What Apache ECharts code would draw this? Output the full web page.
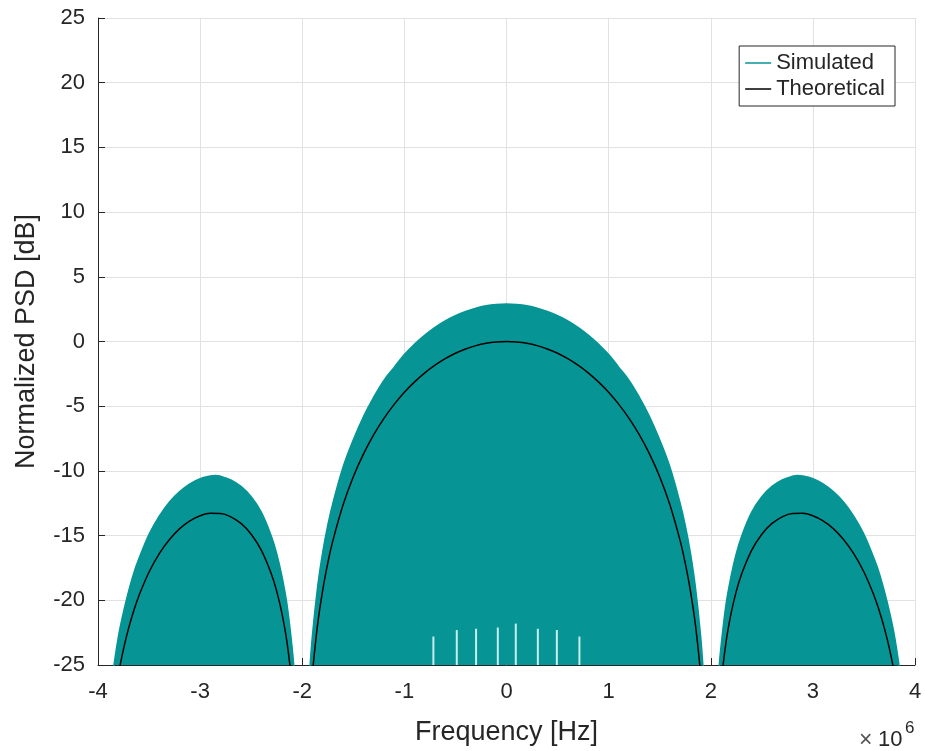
<!DOCTYPE html>
<html><head><meta charset="utf-8">
<script src="https://cdn.jsdelivr.net/npm/echarts@6/dist/echarts.min.js"></script>
<style>html,body{margin:0;padding:0;background:#fff}#c{width:925px;height:751px}</style>
</head><body><div id="c"></div>
<script>
// x in units of 10^6 Hz, y in dB
const xTicks = [-4, -3, -2, -1, 0, 1, 2, 3, 4];
const yTicks = [-25, -20, -15, -10, -5, 0, 5, 10, 15, 20, 25];

// Simulated PSD (upper envelope of dense noisy trace), null = gap
const simFreq = [-3.85,-3.8,-3.75,-3.7,-3.65,-3.6,-3.5,-3.4,-3.3,-3.2,-3.1,-3.0,-2.9,-2.85,-2.8,-2.7,-2.6,-2.5,-2.4,-2.3,-2.25,-2.2,-2.15,-2.1,-2.08,
  -2.0,
  -1.93,-1.9,-1.85,-1.8,-1.75,-1.7,-1.6,-1.5,-1.4,-1.3,-1.2,-1.1,-1.0,-0.9,-0.8,-0.7,-0.6,-0.5,-0.4,-0.3,-0.2,-0.1,0,
  0.1,0.2,0.3,0.4,0.5,0.6,0.7,0.8,0.9,1.0,1.1,1.2,1.3,1.4,1.5,1.6,1.7,1.75,1.8,1.85,1.9,1.93,
  2.0,
  2.08,2.1,2.15,2.2,2.25,2.3,2.4,2.5,2.6,2.7,2.8,2.85,2.9,3.0,3.1,3.2,3.3,3.4,3.5,3.6,3.65,3.7,3.75,3.8,3.85];
const simPSD = [-25.4,-22.8,-20.9,-19.3,-17.9,-16.8,-14.9,-13.5,-12.4,-11.6,-11.0,-10.6,-10.4,-10.35,-10.42,-10.7,-11.2,-12.0,-13.2,-15.1,-16.4,-18.1,-20.3,-23.6,-25.4,
  null,
  -25.9,-22.7,-19.0,-16.3,-14.2,-12.5,-9.7,-7.6,-5.8,-4.3,-3.0,-2.0,-1.0,-0.2,0.5,1.1,1.6,2.0,2.32,2.58,2.76,2.86,2.9,
  2.86,2.76,2.58,2.32,2.0,1.6,1.1,0.5,-0.2,-1.0,-2.0,-3.0,-4.3,-5.8,-7.6,-9.7,-12.5,-14.2,-16.3,-19.0,-22.7,-25.9,
  null,
  -25.4,-23.6,-20.3,-18.1,-16.4,-15.1,-13.2,-12.0,-11.2,-10.7,-10.42,-10.35,-10.4,-10.6,-11.0,-11.6,-12.4,-13.5,-14.9,-16.8,-17.9,-19.3,-20.9,-22.8,-25.4];

// Theoretical PSD, null = gap
const theoFreq = [-3.8,-3.75,-3.7,-3.65,-3.6,-3.5,-3.4,-3.3,-3.2,-3.1,-3.0,-2.9,-2.8,-2.7,-2.6,-2.5,-2.4,-2.3,-2.25,-2.2,-2.15,-2.1,
  -2.0,
  -1.9,-1.85,-1.8,-1.75,-1.7,-1.6,-1.5,-1.4,-1.3,-1.2,-1.1,-1.0,-0.9,-0.8,-0.7,-0.6,-0.5,-0.4,-0.3,-0.2,-0.1,0,
  0.1,0.2,0.3,0.4,0.5,0.6,0.7,0.8,0.9,1.0,1.1,1.2,1.3,1.4,1.5,1.6,1.7,1.75,1.8,1.85,1.9,
  2.0,
  2.1,2.15,2.2,2.25,2.3,2.4,2.5,2.6,2.7,2.8,2.9,3.0,3.1,3.2,3.3,3.4,3.5,3.6,3.65,3.7,3.75,3.8];
const theoPSD = [-25.7,-23.75,-22.15,-20.81,-19.66,-17.81,-16.39,-15.30,-14.46,-13.86,-13.46,-13.28,-13.30,-13.55,-14.06,-14.89,-16.14,-18.02,-19.31,-20.97,-23.21,-26.48,
  null,
  -25.61,-21.90,-19.23,-17.13,-15.39,-12.62,-10.45,-8.69,-7.20,-5.94,-4.86,-3.92,-3.12,-2.42,-1.83,-1.33,-0.91,-0.58,-0.32,-0.14,-0.04,0,
  -0.04,-0.14,-0.32,-0.58,-0.91,-1.33,-1.83,-2.42,-3.12,-3.92,-4.86,-5.94,-7.20,-8.69,-10.45,-12.62,-15.39,-17.13,-19.23,-21.90,-25.61,
  null,
  -26.48,-23.21,-20.97,-19.31,-18.02,-16.14,-14.89,-14.06,-13.55,-13.30,-13.28,-13.46,-13.86,-14.46,-15.30,-16.39,-17.81,-19.66,-20.81,-22.15,-23.75,-25.7];

// Narrow notches in the simulated trace near the bottom
const notchFreq = [-0.716, -0.487, -0.298, -0.085, 0.091, 0.307, 0.493, 0.714];
const notchTop  = [-22.8, -22.3, -22.2, -22.1, -21.8, -22.2, -22.3, -22.8];

const FONT = "'Liberation Sans', Arial, Helvetica, sans-serif";
const TXT = '#262626';
const TEAL = '#079494';

const pair = (xs, ys) => xs.map((x, i) => [x, ys[i] === null ? '-' : ys[i]]);

const chart = echarts.init(document.getElementById('c'));
chart.setOption({
  animation: false,
  backgroundColor: '#ffffff',
  textStyle: { fontFamily: FONT },
  grid: { left: 98, right: 10, top: 18, bottom: 86, containLabel: false },
  legend: {
    data: ['Simulated', 'Theoretical'],
    orient: 'vertical',
    right: 30, top: 46,
    padding: [5, 10, 5, 6],
    itemGap: 2,
    icon: 'rect',
    itemWidth: 26, itemHeight: 1.5,
    itemTextGap: 5,
    backgroundColor: '#ffffff',
    borderColor: TXT, borderWidth: 1,
    textStyle: { fontSize: 22, color: TXT, fontFamily: FONT, lineHeight: 24 }
  },
  xAxis: {
    type: 'value', min: xTicks[0], max: xTicks[xTicks.length - 1], interval: 1,
    name: 'Frequency [Hz]', nameLocation: 'middle', nameGap: 54,
    nameTextStyle: { fontSize: 27, color: TXT, fontFamily: FONT },
    axisLine: { show: true, onZero: false, lineStyle: { color: TXT, width: 1 } },
    axisTick: { show: true, inside: true, length: 7, lineStyle: { color: TXT } },
    axisLabel: { fontSize: 22, color: TXT, margin: 16, fontFamily: FONT },
    splitLine: { show: true, lineStyle: { color: '#e2e2e2', width: 1 } }
  },
  yAxis: {
    type: 'value', min: yTicks[0], max: yTicks[yTicks.length - 1], interval: 5,
    name: 'Normalized PSD [dB]', nameLocation: 'middle', nameGap: 58,
    nameTextStyle: { fontSize: 27, color: TXT, fontFamily: FONT },
    axisLine: { show: true, onZero: false, lineStyle: { color: TXT, width: 1 } },
    axisTick: { show: true, inside: true, length: 7, lineStyle: { color: TXT } },
    axisLabel: { fontSize: 22, color: TXT, margin: 13, fontFamily: FONT },
    splitLine: { show: true, lineStyle: { color: '#e2e2e2', width: 1 } }
  },
  series: [
    {
      name: 'Simulated', type: 'line', data: pair(simFreq, simPSD),
      symbol: 'none', smooth: 0.4, connectNulls: false, clip: true,
      lineStyle: { color: TEAL, width: 1.5 }, itemStyle: { color: TEAL },
      areaStyle: { color: TEAL, opacity: 1, origin: 'start' }, z: 2
    },
    {
      name: 'notches', type: 'custom', clip: true, z: 3,
      data: notchFreq.map((x, i) => [x, notchTop[i]]),
      renderItem: function (params, api) {
        const p0 = api.coord([api.value(0), yTicks[0]]);
        const p1 = api.coord([api.value(0), api.value(1)]);
        return { type: 'line', shape: { x1: p0[0], y1: p0[1], x2: p1[0], y2: p1[1] },
                 style: { stroke: '#c6eeee', lineWidth: 2 } };
      }
    },
    {
      name: 'Theoretical', type: 'line', data: pair(theoFreq, theoPSD),
      symbol: 'none', smooth: 0.4, connectNulls: false, clip: true,
      lineStyle: { color: '#000000', width: 1.5 }, itemStyle: { color: '#000000' }, z: 4
    }
  ],
  graphic: [
    { type: 'text', left: 859, top: 729, style: { text: '×', fontSize: 23, fill: '#555555', fontFamily: FONT } },
    { type: 'text', left: 878, top: 729, style: { text: '10', fontSize: 22, fill: TXT, fontFamily: FONT } },
    { type: 'text', left: 905, top: 720, style: { text: '6', fontSize: 17, fill: TXT, fontFamily: FONT } }
  ]
});
</script></body></html>
